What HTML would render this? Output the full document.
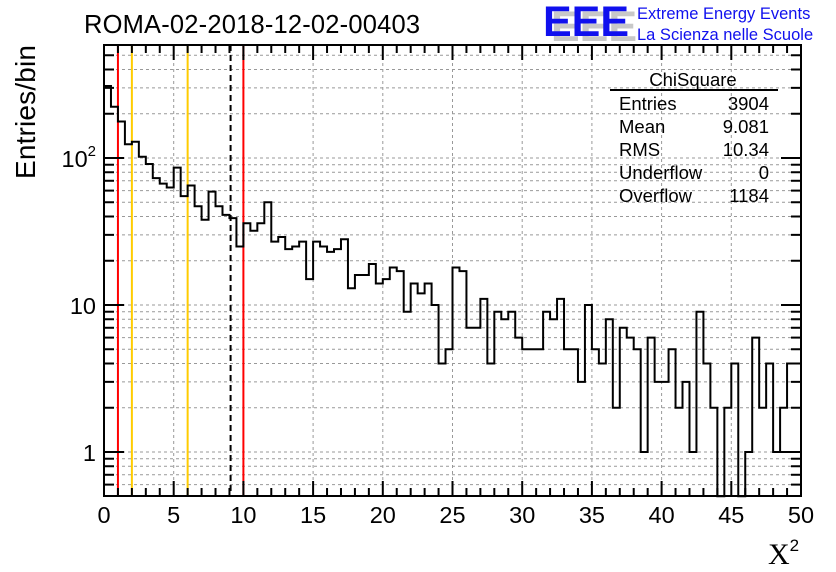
<!DOCTYPE html>
<html><head><meta charset="utf-8"><style>
html,body{margin:0;padding:0;background:#fff;}
svg{display:block;font-family:"Liberation Sans",sans-serif;}
</style></head><body>
<svg id="chart" width="836" height="572" viewBox="0 0 836 572">
<rect width="836" height="572" fill="#fff"/>
<g id="grid"></g>
<g id="vlines"></g>
<path id="hist" fill="none" stroke="#000" stroke-width="2"/>
<g id="axes"></g>
<text x="252" y="33" font-size="25.5" text-anchor="middle" textLength="336">ROMA-02-2018-12-02-00403</text>
<text transform="translate(35,112) rotate(-90)" font-size="28" text-anchor="middle" textLength="134">Entries/bin</text>
<text x="768" y="564" font-size="30" font-family="Liberation Serif,serif">X<tspan font-size="17" dy="-13" font-family="Liberation Sans,sans-serif">2</tspan></text>
<g>
<text x="551" y="41" font-size="43" font-weight="bold" fill="#c8c8c8">EEE</text>
<text x="543" y="36" font-size="43" font-weight="bold" fill="#1010ee">EEE</text>
<text x="637" y="19" font-size="16.5" fill="#1010ee">Extreme Energy Events</text>
<text x="637" y="40" font-size="16.5" fill="#1010ee">La Scienza nelle Scuole</text>
</g>
<g font-size="18.5">
<text x="693" y="86" text-anchor="middle">ChiSquare</text>
<line x1="610" y1="90" x2="778" y2="90" stroke="#000" stroke-width="2"/>
<text x="619" y="110">Entries</text><text x="769" y="110" text-anchor="end">3904</text>
<text x="619" y="133">Mean</text><text x="769" y="133" text-anchor="end">9.081</text>
<text x="619" y="156">RMS</text><text x="769" y="156" text-anchor="end">10.34</text>
<text x="619" y="179">Underflow</text><text x="769" y="179" text-anchor="end">0</text>
<text x="619" y="202">Overflow</text><text x="769" y="202" text-anchor="end">1184</text>
</g>
</svg>
<script>
const binWidth = 0.5;
const counts = [309,223,177,124,129,102,91,73,67,63,86,55,65,47,38,59,47,41,39,25,
36,32,36,50,27,29,24,25,27,15,27,25,23,24,28,13,16,16,19,14,
15,18,17,9,14,12,14,10,4,5,18,17,7,7,11,4,9,8,9,6,
5,5,5,9,8,11,5,5,3,10,5,4,8,2,7,6,5,1,6,3,
3,5,2,3,1,9,4,2,0,2,4,0,1,6,2,4,1,2,4,4];
const xTicks = [0,5,10,15,20,25,30,35,40,45,50];
const yTickLabels = [[1,"1"],[10,"10"],[100,"10²"]];
const refLines = [[1,"#ff0000","red-cut-low"],[2,"#ffcc00","yellow-cut-low"],[6,"#ffcc00","yellow-cut-high"],[9.081,"#000","mean-line"],[10,"#ff0000","red-cut-high"]];

const X0=104,X1=801,Y0=45,Y1=496;
const xMin=0,xMax=50;
const yMin=Math.log10(0.5);
const sx=v=>X0+(v-xMin)/(xMax-xMin)*(X1-X0);
const sy=v=>{const l=v>0?Math.log10(v):yMin-1;const c=Math.max(l,yMin);return 452-147*c;};
const NS="http://www.w3.org/2000/svg";
function mk(tag,parent,attrs){const e=document.createElementNS(NS,tag);for(const k in attrs)e.setAttribute(k,attrs[k]);parent.appendChild(e);return e;}

const grid=document.getElementById('grid');
for(const t of xTicks){if(t===0||t===50)continue;
 const l=mk('line',grid,{x1:sx(t),x2:sx(t),y1:Y0,y2:Y1,stroke:'#999','stroke-dasharray':'3,3','stroke-width':1});
 
 }
for(let d=-1;d<=2;d++)for(let m=1;m<=9;m++){const v=m*Math.pow(10,d);if(v<0.5)continue;const y=sy(v);if(y<Y0+1||y>Y1-1)continue;
 const l=mk('line',grid,{x1:X0,x2:X1,y1:y,y2:y,stroke:'#999','stroke-dasharray':'3,3','stroke-width':1});
 
 }

const vl=document.getElementById('vlines');
for(const [v,c,n] of refLines){
 const l=mk('line',vl,{x1:sx(v),x2:sx(v),y1:Y0,y2:Y1,stroke:c,'stroke-width':2});
 if(c==='#000')l.setAttribute('stroke-dasharray','6,4');
 
 }

let d='M'+sx(0)+','+Y1;
counts.forEach((c,i)=>{const y=sy(c);d+=' L'+sx(i*binWidth)+','+y+' L'+sx((i+1)*binWidth)+','+y;});
d+=' L'+sx(counts.length*binWidth)+','+Y1;
document.getElementById('hist').setAttribute('d',d);

const ax=document.getElementById('axes');
mk('rect',ax,{x:X0,y:Y0,width:X1-X0,height:Y1-Y0,fill:'none',stroke:'#000','stroke-width':2});
for(let t=0;t<=50;t++){const x=sx(t);const L=(t%5===0)?15:8;
 mk('line',ax,{x1:x,x2:x,y1:Y1,y2:Y1-L,stroke:'#000','stroke-width':2});
 mk('line',ax,{x1:x,x2:x,y1:Y0,y2:Y0+L,stroke:'#000','stroke-width':2});}
for(const t of xTicks){const tx=mk('text',ax,{x:sx(t),y:523,'font-size':23.5,'text-anchor':'middle'});tx.textContent=t;
 
 }
for(let d2=-1;d2<=2;d2++)for(let m=1;m<=9;m++){const v=m*Math.pow(10,d2);const y=sy(v);if(y<Y0||y>Y1||v<0.5)continue;const L=(m===1)?20:10;
 mk('line',ax,{x1:X0,x2:X0+L,y1:y,y2:y,stroke:'#000','stroke-width':2});
 mk('line',ax,{x1:X1,x2:X1-L,y1:y,y2:y,stroke:'#000','stroke-width':2});}
for(const [v,s] of yTickLabels){const tx=mk('text',ax,{x:96,y:sy(v)+9,'font-size':23.5,'text-anchor':'end'});
 if(s==="10²"){tx.textContent='10';const ts=mk('tspan',tx,{'font-size':15,dy:-11});ts.textContent='2';}else tx.textContent=s;
 
 }
</script>
</body></html>
